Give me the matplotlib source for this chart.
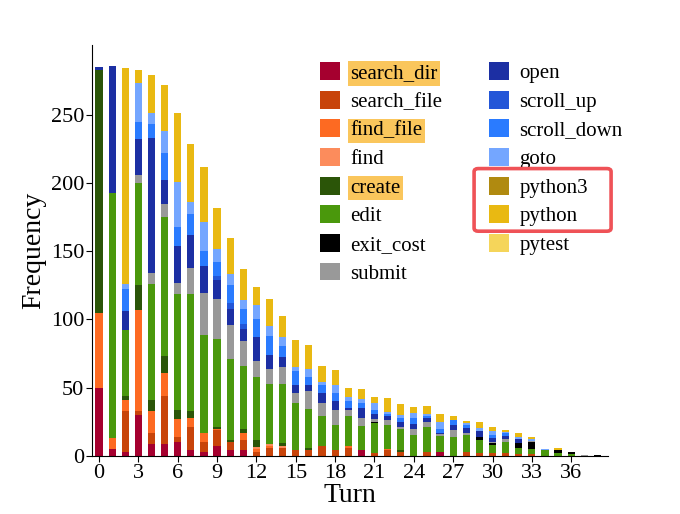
import matplotlib
matplotlib.use("Agg")
import matplotlib.pyplot as plt
from matplotlib.patches import FancyBboxPatch
import numpy as np

plt.rcParams['font.family'] = ['Liberation Serif', 'DejaVu Serif']

turns = list(range(39))

categories = ['search_dir', 'search_file', 'find_file', 'find', 'create', 'edit',
              'exit_cost', 'submit', 'open', 'scroll_up', 'scroll_down', 'goto',
              'python3', 'python', 'pytest']
colors = ['#a5002f', '#c8440a', '#fd6a22', '#fc8c5c', '#2b5508', '#4a980c',
          '#000000', '#999999', '#1c2fa3', '#2356d8', '#2a7bff', '#74a6ff',
          '#b08a10', '#e9b912', '#f5d55a']
highlighted = ['search_dir', 'find_file', 'create']
boxed = ['python3', 'python']

search_dir = [50, 5, 3, 30, 9, 9, 10, 4, 3, 7, 4, 4, 0, 0, 0, 0, 0, 0, 0, 0,
              4, 0, 0, 0, 0, 0, 3, 0, 0, 0, 0, 0, 0, 0, 0, 0, 0, 0, 0]
search_file = [0, 0, 30, 3, 8, 35, 4, 17.5, 7.5, 12, 6, 8, 3, 6, 6, 4, 4, 7, 4, 6,
               0, 2, 4, 3, 0, 3, 0, 0, 3, 2, 2.5, 2.5, 1.5, 1.5, 0, 0, 0, 0, 0]
find_file = [55, 8, 8, 74, 16, 17, 13, 6.5, 6, 1, 0, 5, 2, 1, 0, 0, 0, 0, 0, 1.5,
             0, 0, 1, 0, 0, 0, 0, 0, 0, 0, 0, 0, 0, 0, 0, 0, 0, 0, 0]
find = [0, 0, 0, 0, 0, 0, 0, 0, 0, 0, 0, 0, 1.5, 2, 1.5, 0, 0, 0, 0, 0,
        0, 0, 0, 0, 0, 0, 0, 0, 0, 0, 0, 0, 0, 0, 0, 0, 0, 0, 0]
create = [178, 0, 3, 18, 8, 12, 7, 5, 0, 1, 2, 3, 5, 0, 2, 0, 1.5, 0, 0, 0,
          0, 0, 0, 1, 0, 0, 0, 0, 0, 0, 0, 0, 0, 0, 0, 0, 0, 0, 0]
edit = [0, 180, 48, 75, 85, 102, 85, 85.6, 72, 65, 59, 46, 46, 44, 43, 35, 29, 22, 19, 22,
        18, 22, 18, 16, 15.5, 18, 11.5, 14, 12, 10, 5.5, 8, 4, 3.6, 4, 2, 1.5, 0, 0]
exit_cost = [0, 0, 0, 0, 0, 0, 0, 0, 0, 0, 0, 0, 0, 0, 0, 0, 0, 0, 0, 0,
             0, 1, 0, 0, 0, 0, 0, 0, 0, 2, 1.7, 0, 3.7, 5, 0, 2.4, 1.7, 0, 1]
submit = [0, 0, 0, 6, 8, 10, 8, 19, 30.6, 29, 25, 18, 12, 11, 13, 7, 13, 10, 11, 4,
          6, 2, 3, 1.5, 4, 3.5, 1.2, 5, 2, 0, 0.7, 1.7, 0, 1.2, 0, 0, 0, 0.7, 0]
open_ = [2, 93, 14, 26, 99, 17, 27, 24.4, 20, 14, 12, 9, 18, 10, 7, 6, 4.5, 7, 6, 1.5,
         7, 4, 3, 3, 4, 3, 1.2, 3.5, 3.5, 4.5, 2.5, 2.4, 3, 0, 0, 0, 0, 0, 0]
scroll_up = [0, 0, 0, 0, 0, 0, 0, 0, 0, 3, 4, 4, 0, 0, 0, 0, 0, 0, 0, 0,
             0, 0, 0, 0, 0, 0, 0, 0, 0, 0, 0, 0, 0, 0, 0, 0, 0, 0, 0]
scroll_down = [0, 0, 16, 13, 10, 20, 14, 15.4, 11, 10, 13, 11, 13, 14, 8, 10, 6, 6, 6, 5,
               4, 3, 1.5, 3, 4, 1.5, 3, 3.5, 2, 0, 2.5, 2, 0, 0, 0, 0, 0, 0, 0]
goto = [0, 0, 4, 28, 8, 16, 33, 9, 21, 10, 8, 6, 10, 7, 7, 3, 6, 2, 6, 3,
        3, 5, 2, 2.5, 4, 2, 5, 0, 1.5, 2, 2.5, 1.2, 1.5, 1.2, 1, 0, 0, 0, 0]
python3 = [0] * 39
python = [0, 0, 158, 10, 28, 34, 50, 42, 41, 30, 27, 23, 13, 20, 15, 20, 17, 12, 11, 7,
          7, 4, 10, 8, 4, 5.5, 5.6, 3, 1.5, 4.5, 3, 1.2, 3.4, 1.2, 0, 1.7, 0, 0, 0]
pytest = [0] * 39

series = [search_dir, search_file, find_file, find, create, edit, exit_cost, submit,
          open_, scroll_up, scroll_down, goto, python3, python, pytest]

fig = plt.figure(figsize=(6.8, 5.14), dpi=100)
ax = fig.add_axes([0.136, 0.113, 0.758, 0.799])

bottom = np.zeros(len(turns))
for name, vals, col in zip(categories, series, colors):
    v = np.array(vals, dtype=float)
    ax.bar(turns, v, width=0.55, bottom=bottom, color=col, label=name, linewidth=0)
    bottom += v

ax.set_xlim(-0.5, 38.8)
ax.set_ylim(0, 301)
ax.set_xticks(range(0, 37, 3))
ax.set_yticks(range(0, 251, 50))
ax.tick_params(axis='both', labelsize=16, length=4, width=0.8, pad=2)
for s in ['top', 'right']:
    ax.spines[s].set_visible(False)
ax.set_xlabel('Turn', fontsize=20, labelpad=0)
ax.set_ylabel('Frequency', fontsize=20, labelpad=3)

leg = ax.legend(ncol=2, loc='upper left', bbox_to_anchor=(320 / 680, 1 - 62 / 514),
                bbox_transform=fig.transFigure, frameon=False, fontsize=15,
                handlelength=0.95, handleheight=0.95, handletextpad=0.5,
                labelspacing=0.36, columnspacing=2.25, borderpad=0, borderaxespad=0)
for t in leg.get_texts():
    if t.get_text() in highlighted:
        t.set_bbox(dict(facecolor='#fac65c', edgecolor='none', pad=2.0))

fig.canvas.draw()
renderer = fig.canvas.get_renderer()
handles = leg.legend_handles
idx = [categories.index(b) for b in boxed]
hb = [handles[i].get_window_extent(renderer) for i in idx]
x0 = min(b.x0 for b in hb) - 15
x1 = x0 + 137
y0 = min(b.y0 for b in hb) - 8
y1 = max(b.y1 for b in hb) + 8
W, H = fig.bbox.width, fig.bbox.height
box = FancyBboxPatch((x0 / W, y0 / H), (x1 - x0) / W, (y1 - y0) / H,
                     boxstyle='round,pad=0,rounding_size=0.006',
                     transform=fig.transFigure, fill=False,
                     edgecolor='#ef5257', linewidth=2.6, zorder=10)
fig.patches.append(box)

fig.savefig('out.png', dpi=100)
